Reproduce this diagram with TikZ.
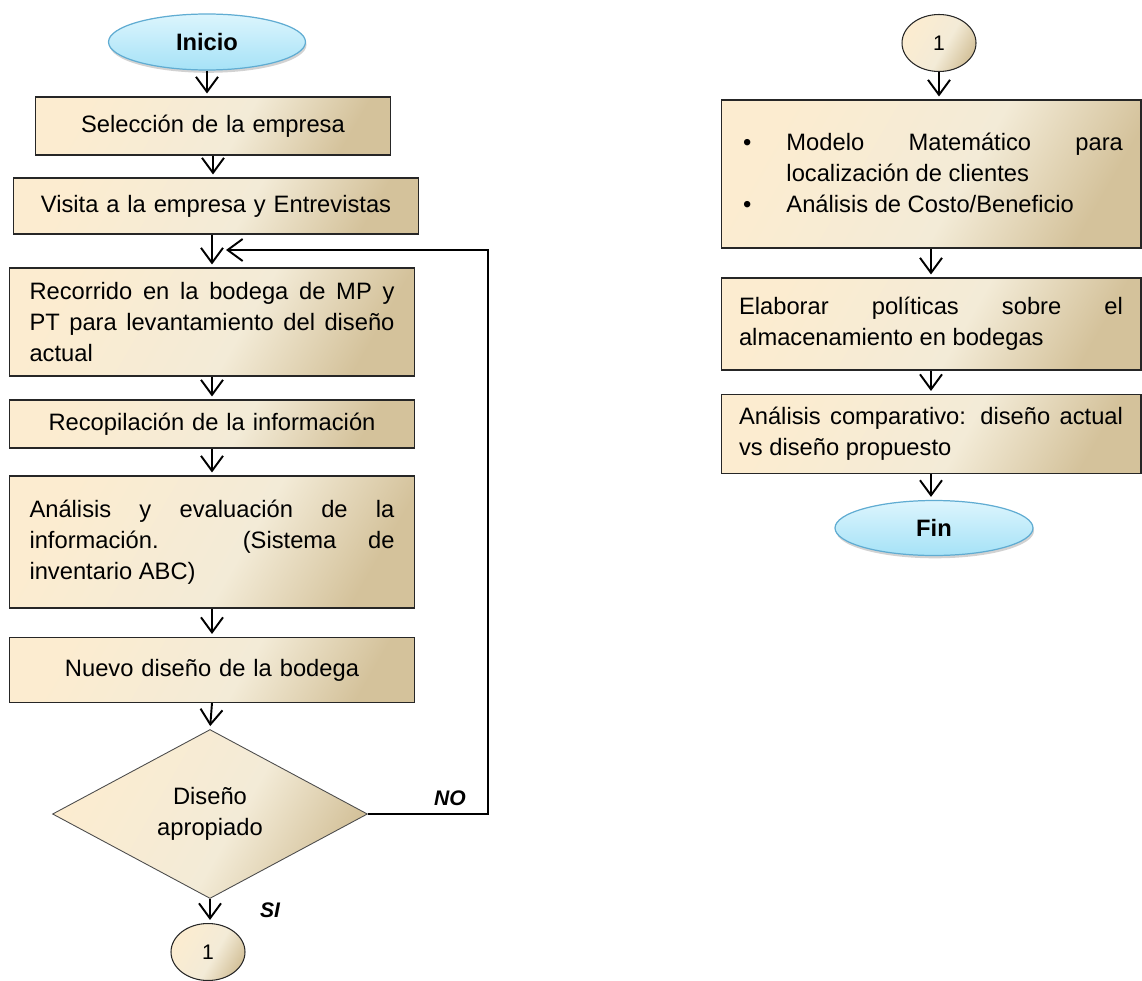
\documentclass[tikz,border=0pt]{standalone}
\usepackage{fontspec}
\setmainfont{Liberation Sans}
\usepackage{enumitem}
\usetikzlibrary{shapes.geometric,arrows.meta,shadows}

\hyphenpenalty=10000
\exhyphenpenalty=10000
\tolerance=10000

\definecolor{arenaA}{RGB}{252,236,208}
\definecolor{arenaB}{RGB}{243,235,215}
\definecolor{arenaC}{RGB}{212,194,155}
\definecolor{cieloA}{RGB}{220,245,253}
\definecolor{cieloB}{RGB}{166,226,247}
\definecolor{cieloBorde}{RGB}{96,172,210}
\pgfdeclarehorizontalshading{arena}{100bp}{color(0bp)=(arenaA); color(25bp)=(arenaA); color(55bp)=(arenaB); color(75bp)=(arenaC); color(100bp)=(arenaC)}

\tikzset{
  paso/.style={draw=black!85, line width=0.6pt, shading=arena, shading angle=-30,
    inner xsep=0.4cm, inner ysep=0pt, text width=7.3cm, align=center,
    font=\fontsize{13.5}{17.8}\selectfont},
  derecha/.style={paso, text width=7.68cm, inner xsep=0.36cm, align=justify},
  limite/.style={ellipse, draw=cieloBorde, line width=0.7pt, top color=cieloA, bottom color=cieloB,
    drop shadow={shadow xshift=0.6pt, shadow yshift=-1.6pt, fill=black!35},
    inner sep=0pt, font=\bfseries\fontsize{13.5}{16}\selectfont},
  conector/.style={ellipse, draw=black!85, line width=0.6pt, shading=arena, shading angle=-30,
    minimum width=1.48cm, minimum height=1.14cm, inner sep=0pt, font=\fontsize{12}{14}\selectfont},
  decision/.style={diamond, draw=black!70, line width=0.5pt, shading=arena, shading angle=-30,
    minimum width=6.3cm, minimum height=3.38cm, aspect=1.86, inner sep=0pt, align=center,
    font=\fontsize{13.5}{17.8}\selectfont},
  etiqueta/.style={font=\bfseries\itshape\fontsize{12}{14}\selectfont},
  flecha/.style={-{Straight Barb[length=3mm,width=4.4mm]}, line width=1.1pt, shorten >=0.6mm}
}

\begin{document}
\begin{tikzpicture}[x=0.02cm, y=-0.02cm]
\useasboundingbox (0,0) rectangle (1142,980);
%Columna izquierda
\node[limite, minimum width=3.94cm, minimum height=1.12cm] (ini) at (207,42) {Inicio};
\node[paso, text width=6.32cm, minimum height=1.16cm] (sel) at (213,126) {Selección de la empresa};
\node[paso, minimum height=1.12cm] (vis) at (216,206) {Visita a la empresa y Entrevistas};
\node[paso, align=justify, minimum height=2.16cm] (rec) at (212,322) {Recorrido en la bodega de MP y\linebreak PT para levantamiento del diseño\linebreak actual};
\node[paso, minimum height=0.96cm] (rcp) at (212,424) {Recopilación de la información};
\node[paso, align=justify, minimum height=2.64cm] (ana) at (212,542) {Análisis y evaluación de la\linebreak información. (Sistema de\linebreak inventario ABC)};
\node[paso, minimum height=1.3cm] (nue) at (212,670) {Nuevo diseño de la bodega};
\node[decision] (dis) at (210,814) {Diseño\\apropiado};
\node[conector] (c1) at (208,952) {1};
\node[etiqueta] (si) at (270,910) {SI};
\node[etiqueta] (no) at (450,798) {NO};
\coordinate (ret) at (223,250);
%Flechas
\draw[flecha] (ini.south) -- (ini.south |- sel.north);
\draw[flecha] (sel.south) -- (sel.south |- vis.north);
\draw[flecha] (rec.north |- vis.south) -- (rec.north);
\draw[flecha] (rec.south) -- (rcp.north);
\draw[flecha] (rcp.south) -- (ana.north);
\draw[flecha] (ana.south) -- (nue.north);
\draw[flecha] (nue.south) -- (dis.north);
\draw[flecha] (dis.south) -- (dis.south |- c1.north);
%Retorno NO
\draw[flecha] (dis.east) -- ++(120,0) |- (ret);
%Columna derecha
\node[conector] (c2) at (939,43) {1};
\node[derecha, minimum height=2.96cm] (mod) at (931,174) {\vspace*{-0.32cm}\begin{itemize}[leftmargin=27pt,labelsep=20pt,nosep]
  \item Modelo Matemático para\linebreak localización de clientes
  \item Análisis de Costo/Beneficio
\end{itemize}};
\node[derecha, minimum height=1.84cm] (pol) at (931,324) {Elaborar políticas sobre el\linebreak almacenamiento en bodegas};
\node[derecha, minimum height=1.58cm] (com) at (931,434) {Análisis comparativo: diseño actual\linebreak vs diseño propuesto};
\node[limite, minimum width=3.96cm, minimum height=1.1cm] (fin) at (934,528) {Fin};
\draw[flecha] (c2.south) -- (c2.south |- mod.north);
\draw[flecha] (mod.south) -- (pol.north);
\draw[flecha] (pol.south) -- (com.north);
\draw[flecha] (com.south) -- (com.south |- fin.north);
\end{tikzpicture}
\end{document}
